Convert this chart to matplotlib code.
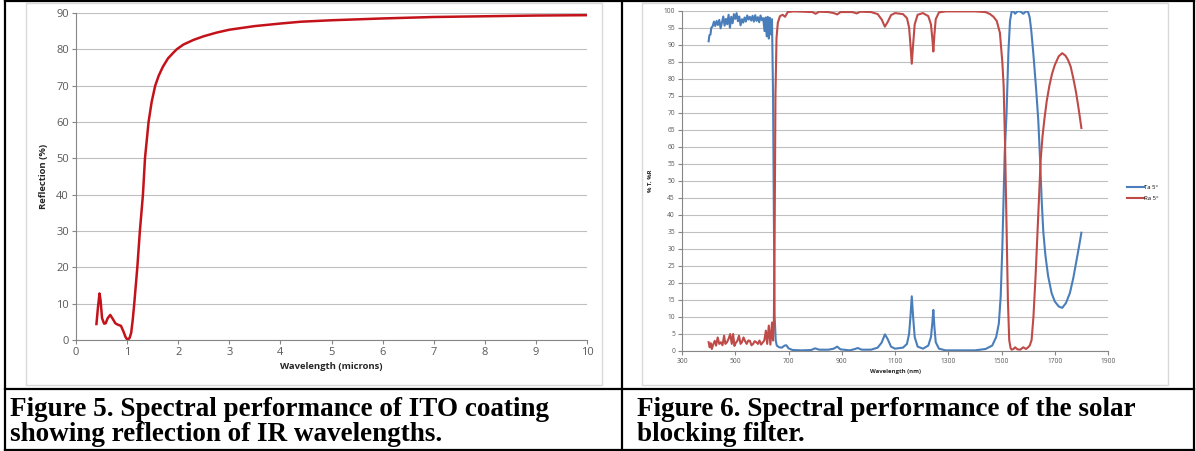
import matplotlib
matplotlib.use("Agg")
import matplotlib.pyplot as plt
from matplotlib.patches import Rectangle
from matplotlib.lines import Line2D

# Figure 5: ITO coating reflection
wl_ito = [0.40, 0.43, 0.46, 0.48, 0.51, 0.55, 0.58, 0.62, 0.67, 0.72, 0.77, 0.82,
          0.88, 0.93, 0.97, 1.01, 1.05, 1.08, 1.11, 1.14, 1.17, 1.20, 1.25, 1.31,
          1.35, 1.42, 1.48, 1.55, 1.62, 1.70, 1.80, 1.90, 1.97, 2.1, 2.3, 2.5,
          2.75, 3.0, 3.5, 4.0, 4.4, 5, 6, 7, 8, 9, 10]
refl_ito = [4.4, 9.0, 12.8, 11.0, 6.0, 4.5, 4.6, 6.0, 6.9, 5.8, 4.6, 4.2,
            3.9, 2.3, 0.8, 0.0, 0.6, 2.0, 5.5, 10.0, 15.0, 20.0, 30.0, 40.0,
            50.0, 60.0, 65.5, 70.0, 72.8, 75.2, 77.5, 79.0, 80.0, 81.3, 82.6, 83.6,
            84.6, 85.4, 86.4, 87.1, 87.6, 88.0, 88.5, 88.9, 89.1, 89.3, 89.4]

# Figure 6: solar blocking filter
wl_t = [400, 403, 407, 410, 415, 420, 425, 430, 435, 440, 445, 450, 455, 460, 465,
        470, 475, 480, 485, 490, 495, 500, 505, 510, 515, 520, 525, 530, 535, 540,
        545, 550, 555, 560, 565, 570, 575, 580, 585, 590, 595, 600, 605, 610, 614,
        618, 622, 626, 630, 634, 638, 642, 645, 648, 652, 656, 665, 675, 685, 692,
        700, 715, 750, 785, 800, 815, 850, 870, 883, 895, 930, 950, 960, 975, 1010,
        1035, 1050, 1062, 1072, 1085, 1100, 1130, 1145, 1153, 1158, 1163, 1168, 1174,
        1185, 1205, 1225, 1235, 1240, 1244, 1248, 1253, 1265, 1290, 1400, 1440, 1465,
        1480, 1490, 1497, 1503, 1508, 1512, 1519, 1526, 1532, 1538, 1545, 1551, 1560,
        1570, 1582, 1592, 1600, 1606, 1612, 1620, 1630, 1638, 1645, 1651, 1657, 1665,
        1675, 1688, 1700, 1715, 1728, 1742, 1757, 1770, 1782, 1792, 1800]
ta_5 = [91.0, 92.8, 93.0, 95.0, 95.4, 96.8, 95.5, 97.0, 95.8, 97.3, 94.8, 96.6, 98.3, 95.6, 97.6,
        96.0, 98.8, 95.0, 98.2, 96.3, 99.0, 97.6, 99.3, 96.9, 98.3, 95.7, 97.5, 96.5, 98.0, 96.8,
        98.6, 97.4, 98.2, 97.1, 98.5, 96.8, 98.7, 97.0, 98.1, 96.6, 98.6, 97.2, 97.8, 94.0, 98.0,
        92.5, 98.2, 91.8, 97.9, 93.0, 97.5, 75.0, 40.0, 10.0, 3.0, 1.5, 1.0, 0.9, 1.5, 1.6,
        0.7, 0.2, 0.1, 0.2, 0.7, 0.3, 0.3, 0.6, 1.2, 0.4, 0.1, 0.5, 0.8, 0.3, 0.3,
        0.9, 2.4, 4.8, 3.5, 1.2, 0.6, 0.9, 2.0, 5.0, 10.0, 16.0, 10.0, 4.0,
        1.2, 0.6, 1.5, 4.0, 8.0, 12.0, 7.0, 2.5, 0.6, 0.1, 0.1, 0.5, 1.5,
        4.0, 8.0, 16.0, 30.0, 45.0, 58.0, 70.0, 88.0, 97.0, 99.7, 99.8, 99.1, 99.8,
        99.8, 99.1, 99.8, 99.6, 98.0, 94.0, 87.0, 77.0, 68.0, 56.0, 44.0, 35.0, 28.0,
        22.0, 17.0, 14.5, 13.0, 12.6, 14.0, 17.0, 21.5, 26.7, 31.0, 34.7]

wl_r = [400, 404, 408, 412, 417, 423, 428, 434, 440, 446, 452, 458, 463, 469, 475,
        481, 487, 492, 497, 502, 508, 514, 520, 525, 531, 537, 543, 549, 555, 561,
        567, 573, 579, 585, 591, 597, 603, 609, 615, 620, 626, 632, 638, 642, 645,
        648, 651, 655, 660, 668, 678, 687, 697, 720, 760, 790, 802, 815, 850, 870,
        883, 895, 940, 956, 970, 1010, 1035, 1050, 1062, 1072, 1085, 1100, 1130, 1145,
        1153, 1158, 1163, 1168, 1174, 1185, 1205, 1225, 1235, 1240, 1244, 1248, 1253,
        1265, 1290, 1400, 1440, 1457, 1470, 1482, 1494, 1503, 1508, 1513, 1518, 1524,
        1529, 1534, 1538, 1545, 1551, 1560, 1570, 1582, 1592, 1600, 1606, 1613, 1620,
        1628, 1636, 1642, 1647, 1654, 1661, 1670, 1680, 1690, 1700, 1715, 1728, 1740,
        1750, 1760, 1770, 1780, 1790, 1800]
ra_5 = [2.5, 1.0, 2.2, 0.5, 1.8, 2.9, 1.5, 3.9, 2.0, 2.5, 1.6, 4.4, 2.0, 2.5, 3.5,
        4.9, 2.0, 4.9, 1.4, 2.3, 2.9, 4.4, 2.0, 2.5, 3.9, 2.8, 2.0, 3.0, 2.9, 1.6,
        2.0, 2.8, 2.5, 2.0, 3.0, 1.8, 2.4, 3.0, 5.9, 2.0, 7.4, 1.8, 8.3, 3.0, 8.0,
        35.0, 75.0, 92.0, 96.5, 98.4, 98.8, 98.2, 99.6, 99.8, 99.7, 99.6, 99.1, 99.7, 99.6, 99.3,
        98.9, 99.6, 99.6, 99.2, 99.7, 99.6, 99.0, 97.4, 95.3, 96.6, 98.7, 99.3, 99.0, 97.8,
        95.0, 90.0, 84.4, 90.0, 96.0, 98.8, 99.3, 98.4, 96.0, 92.0, 88.0, 93.0, 97.5,
        99.5, 99.8, 99.8, 99.6, 99.0, 98.2, 97.0, 93.5, 85.0, 78.0, 62.0, 40.0, 15.0,
        3.1, 0.8, 0.3, 0.5, 1.0, 0.4, 0.3, 1.0, 0.5, 1.0, 1.5, 3.1, 10.0,
        22.0, 36.0, 47.0, 56.0, 63.0, 68.0, 73.5, 78.0, 81.5, 84.0, 86.6, 87.5, 86.8,
        85.5, 83.5, 80.0, 76.0, 71.0, 65.5]

W, H = 1196, 451
tick_font = "Open Sans"
grey_txt = "#595959"
grid_c = "#BFBFBF"
axis_c = "#868686"


def rect(l, t, r, b):
    return [l / W, 1 - b / H, (r - l) / W, (b - t) / H]


def style_axes(ax, fs):
    for s in ["top", "right"]:
        ax.spines[s].set_visible(False)
    for s in ["left", "bottom"]:
        ax.spines[s].set_color(axis_c)
        ax.spines[s].set_linewidth(0.8)
    ax.grid(axis="y", color=grid_c, linewidth=0.8)
    ax.set_axisbelow(True)
    ax.tick_params(axis="both", direction="out", length=3, width=0.8, color=axis_c,
                   labelsize=fs, labelcolor=grey_txt, pad=2)
    for lab in ax.get_xticklabels() + ax.get_yticklabels():
        lab.set_fontfamily(tick_font)


fig = plt.figure(figsize=(W / 100, H / 100), dpi=100)

# chart frames
fig.patches.append(Rectangle((26 / W, 1 - 385 / H), 576 / W, 382 / H, transform=fig.transFigure,
                             fill=False, edgecolor="#D9D9D9", linewidth=1))
fig.patches.append(Rectangle((642 / W, 1 - 385 / H), 526 / W, 382 / H, transform=fig.transFigure,
                             fill=False, edgecolor="#D9D9D9", linewidth=1))

# left chart
ax1 = fig.add_axes(rect(76, 13, 587, 340))
ax1.plot(wl_ito, refl_ito, color="#C4121A", linewidth=1.8, solid_joinstyle="round")
ax1.set_xlim(0, 10)
ax1.set_ylim(0, 90)
ax1.set_xticks(range(0, 11))
ax1.set_yticks(range(0, 91, 10))
style_axes(ax1, 8)
ax1.set_xlabel("Wavelength (microns)", fontsize=6.8, fontweight="bold", family=tick_font,
               color="#262626", labelpad=3)
ax1.set_ylabel("Reflection (%)", fontsize=6.8, fontweight="bold", family=tick_font,
               color="#262626", labelpad=6)

# right chart
ax2 = fig.add_axes(rect(682, 10.7, 1108, 350.7))
ax2.plot(wl_t, ta_5, color="#4A7EBB", linewidth=1.5, label="Ta 5°")
ax2.plot(wl_r, ra_5, color="#BE4B48", linewidth=1.5, label="Ra 5°")
ax2.set_xlim(300, 1900)
ax2.set_ylim(0, 100)
ax2.set_xticks(range(300, 1901, 200))
ax2.set_yticks(range(0, 101, 5))
style_axes(ax2, 4.8)
ax2.set_xlabel("Wavelength (nm)", fontsize=4.3, fontweight="bold", family=tick_font,
               color="#262626", labelpad=3)
ax2.set_ylabel("% T, %R", fontsize=4.3, fontweight="bold", family=tick_font,
               color="#262626", labelpad=8)
fig.legend(loc="center left", bbox_to_anchor=(1124 / W, 1 - 193 / H), frameon=False,
           prop={"family": tick_font, "size": 4.3}, handlelength=2.8, handletextpad=0.1,
           labelspacing=1.1, borderpad=0)

# table borders
blk = dict(color="black", linewidth=1.6, transform=fig.transFigure)
for x0, y0, x1, y1 in [(5, 1, 1194, 1), (5, 389, 1194, 389), (5, 449.5, 1194, 449.5),
                       (5, 1, 5, 449.5), (621.5, 1, 621.5, 449.5), (1194, 1, 1194, 449.5)]:
    fig.lines.append(Line2D([x0 / W, x1 / W], [1 - y0 / H, 1 - y1 / H], **blk))

# captions
cap_font = dict(family="Liberation Serif", fontweight="bold", fontsize=19.5,
                va="baseline", ha="left")
captions = [(10, ["Figure 5. Spectral performance of ITO coating",
                  "showing reflection of IR wavelengths."]),
            (637, ["Figure 6. Spectral performance of the solar",
                   "blocking filter."])]
for x, lines in captions:
    for k, line in enumerate(lines):
        fig.text(x / W, 1 - (416 + 25 * k) / H, line, **cap_font)

fig.savefig("out.png", dpi=100)
